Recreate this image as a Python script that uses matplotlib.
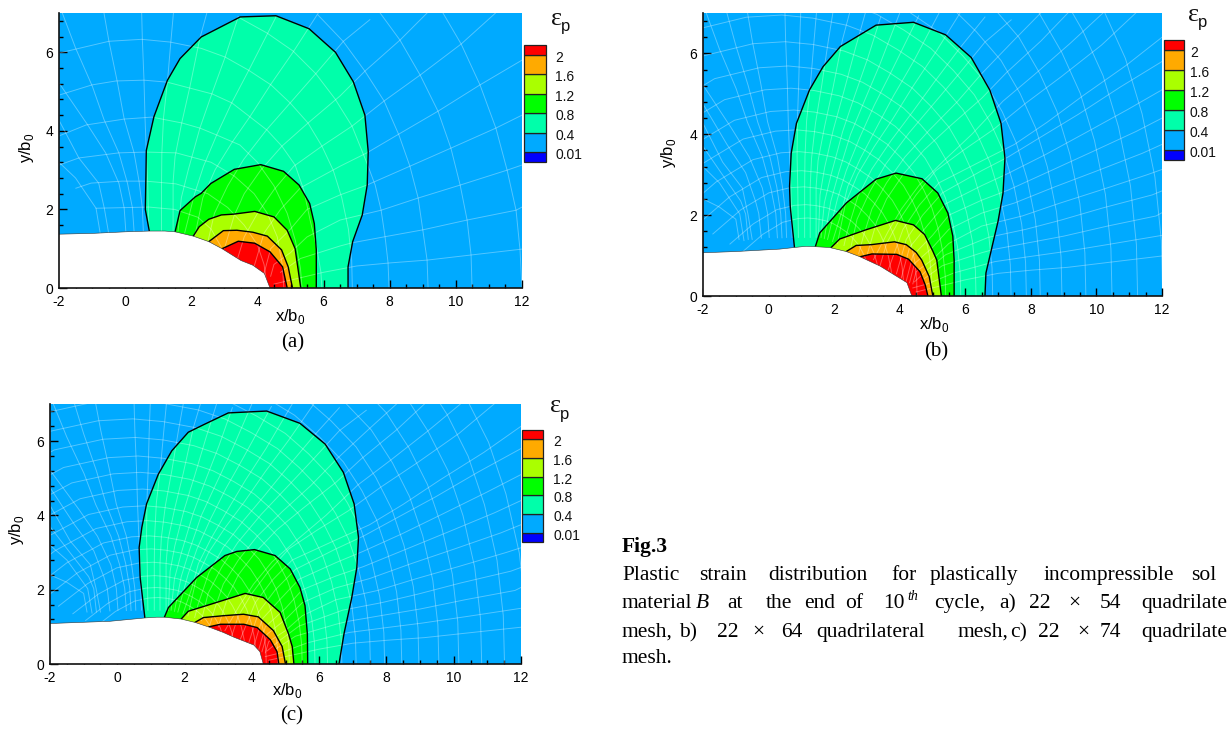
import matplotlib
matplotlib.use("Agg")
import matplotlib.pyplot as plt
from matplotlib.ticker import MultipleLocator

plt.rcParams["font.family"] = ["Liberation Sans", "DejaVu Sans"]
plt.rcParams["axes.unicode_minus"] = False

W, H = 1228, 729

# contour colours, low to high
c_bg = "#00AAFF"
c_04 = "#00FFAA"
c_08 = "#00FF00"
c_12 = "#AAFF00"
c_16 = "#FFAA00"
c_20 = "#FF0000"
c_low = "#0000FF"

legend_colors = [c_low, c_bg, c_04, c_08, c_12, c_16, c_20]
legend_labels = ["0.01", "0.4", "0.8", "1.2", "1.6", "2"]

# ----------------------------------------
# PANEL (a)
# ----------------------------------------
hole_a = [(-2, 1.37), (-1, 1.39), (0, 1.43), (0.73, 1.45), (1.2, 1.45), (1.51, 1.43), (2.06, 1.32),
          (2.53, 1.18), (2.93, 1.0), (3.5, 0.7), (3.86, 0.58), (4.21, 0.37), (4.38, 0)]
outer_a = [(0.73, 1.45), (0.61, 2.0), (0.63, 2.92), (0.64, 3.5), (0.87, 4.36), (1.28, 5.29), (1.66, 5.84),
           (2.3, 6.39), (3.48, 6.9), (4.56, 6.93), (5.56, 6.6), (6.36, 6.0), (6.9, 5.25), (7.25, 4.4),
           (7.35, 3.47), (7.32, 2.62), (7.17, 1.86), (6.88, 1.18), (6.74, 0.54), (6.74, 0)]
green_a = [(1.51, 1.43), (1.66, 1.97), (2.12, 2.32), (2.3, 2.41), (2.59, 2.66), (3.3, 3.02), (4.1, 3.14),
           (4.79, 2.97), (5.26, 2.62), (5.58, 2.15), (5.72, 1.64), (5.78, 0.97), (5.78, 0)]
yellow_a = [(2.06, 1.32), (2.24, 1.56), (2.53, 1.75), (2.91, 1.86), (3.28, 1.88), (3.92, 1.95), (4.5, 1.81),
            (4.9, 1.47), (5.14, 1.0), (5.31, 0)]
orange_a = [(2.53, 1.18), (2.97, 1.46), (3.38, 1.47), (3.86, 1.42), (4.3, 1.32), (4.73, 0.97), (4.93, 0.54),
            (5.06, 0)]
red_a = [(2.93, 1.0), (3.42, 1.19), (3.92, 1.14), (4.38, 0.92), (4.76, 0.54), (4.9, 0)]

# ----------------------------------------
# PANEL (b)
# ----------------------------------------
hole_b = [(-2, 1.07), (-1, 1.1), (0.34, 1.16), (0.79, 1.2), (1.15, 1.23), (1.42, 1.22), (1.86, 1.2), (2.37, 1.1),
          (2.79, 0.97), (3.4, 0.74), (4.22, 0.33), (4.37, 0)]
outer_b = [(0.79, 1.2), (0.66, 2.22), (0.64, 2.71), (0.69, 3.53), (0.85, 4.27), (1.25, 5.1), (1.66, 5.67),
           (2.19, 6.17), (3.28, 6.7), (4.42, 6.77), (5.4, 6.46), (6.18, 5.9), (6.75, 5.09), (7.09, 4.27),
           (7.21, 3.41), (7.15, 2.54), (7.0, 1.85), (6.82, 1.23), (6.63, 0.57), (6.6, 0)]
green_b = [(1.43, 1.23), (1.56, 1.56), (2.37, 2.3), (3.28, 2.89), (3.89, 3.04), (4.68, 2.9), (5.16, 2.55),
           (5.47, 2.05), (5.62, 1.48), (5.66, 0.89), (5.66, 0)]
yellow_b = [(1.91, 1.2), (2.17, 1.41), (2.98, 1.64), (3.87, 1.87), (4.42, 1.76), (4.76, 1.52), (5.01, 1.11),
            (5.13, 0.89), (5.27, 0)]
orange_b = [(2.37, 1.1), (2.67, 1.25), (3.13, 1.27), (3.84, 1.34), (4.2, 1.27), (4.5, 1.08), (4.67, 0.89),
            (4.9, 0.48), (5.01, 0)]
red_b = [(2.79, 0.97), (3.15, 1.04), (3.91, 1.03), (4.27, 0.91), (4.62, 0.6), (4.78, 0.27), (4.86, 0)]

# ----------------------------------------
# PANEL (c)
# ----------------------------------------
hole_c = [(-2, 1.09), (-0.22, 1.15), (0.82, 1.24), (1.17, 1.26), (1.4, 1.26), (1.9, 1.21), (2.31, 1.12),
          (2.77, 0.98), (3.15, 0.85), (3.47, 0.72), (4.06, 0.51), (4.24, 0.33), (4.34, 0)]
outer_c = [(0.82, 1.24), (0.68, 2.33), (0.65, 3.14), (0.73, 3.68), (0.87, 4.31), (1.22, 5.11), (1.62, 5.74),
           (2.11, 6.24), (2.56, 6.44), (3.3, 6.76), (4.44, 6.81), (5.43, 6.48), (6.18, 5.92), (6.72, 5.16),
           (7.04, 4.31), (7.17, 3.41), (7.12, 2.6), (6.97, 1.79), (6.74, 0.82), (6.59, 0)]
green_c = [(1.4, 1.26), (1.52, 1.52), (2.36, 2.33), (3.2, 2.92), (3.55, 3.03), (4.08, 3.08), (4.69, 2.92),
           (5.14, 2.56), (5.43, 2.06), (5.58, 1.57), (5.65, 0.81), (5.66, 0)]
yellow_c = [(1.9, 1.21), (2.11, 1.42), (2.96, 1.66), (3.8, 1.9), (4.34, 1.79), (4.84, 1.39), (5.09, 0.81),
            (5.2, 0.47), (5.25, 0)]
orange_c = [(2.31, 1.12), (2.56, 1.25), (3.15, 1.3), (3.75, 1.34), (4.19, 1.27), (4.64, 0.9), (4.9, 0.47),
            (5.0, 0)]
red_c = [(2.72, 1.0), (3.07, 1.07), (3.76, 1.07), (4.16, 0.98), (4.55, 0.65), (4.75, 0.33), (4.8, 0)]

# ----------------------------------------
# MESH LINES
# ----------------------------------------
mesh_arcs = [
    [(9.61, 7), (10.16, 6.21), (10.73, 5.17), (11.21, 4.07), (11.55, 3.0), (11.82, 1.98), (11.94, 0.97), (12, 0)],
    [(7.71, 7), (8.31, 6.31), (8.92, 5.42), (9.46, 4.5), (9.85, 3.56), (10.13, 2.62), (10.34, 1.73), (10.46, 0.84), (10.49, 0)],
    [(5.83, 6.95), (6.59, 6.28), (7.25, 5.52), (7.83, 4.76), (8.28, 3.89), (8.61, 3.1), (8.86, 2.29), (9.0, 1.48), (9.13, 0.71), (9.16, 0)],
    [(3.41, 6.9), (4.29, 6.49), (5.08, 6.03), (5.77, 5.45), (6.35, 4.81), (6.86, 4.12), (7.31, 3.18), (7.56, 2.62), (7.74, 1.98), (7.86, 1.3), (7.95, 0.64), (7.98, 0)],
    [(-2, 5.98), (-0.49, 6.28), (0.5, 6.33), (1.36, 6.26), (2.3, 6.1), (3.02, 5.88), (3.72, 5.55), (4.41, 5.17), (4.99, 4.71), (5.53, 4.2), (5.95, 3.61), (6.29, 3.0), (6.55, 2.3), (6.75, 1.5), (6.85, 0.7), (6.87, 0)],
    [(-2, 4.91), (-1, 5.17), (-0.28, 5.27), (0.57, 5.29), (1.27, 5.24), (2.63, 4.94), (3.23, 4.71), (4.29, 4.02), (4.74, 3.61), (5.14, 3.13), (5.4, 2.5), (5.6, 1.7), (5.8, 1.0), (5.92, 0.4), (5.95, 0)],
    [(-2, 3.87), (-1.18, 4.15), (-0.03, 4.3), (0.81, 4.35), (1.72, 4.2), (2.26, 4.07), (2.78, 3.89), (3.47, 3.64), (4.0, 3.2), (4.5, 2.6), (4.9, 1.9), (5.15, 1.2), (5.3, 0.5), (5.35, 0)],
    [(-2, 3.13), (-1.4, 3.31), (-0.19, 3.44), (0.63, 3.46), (1.54, 3.44), (2.6, 3.2), (3.3, 2.85), (3.9, 2.4), (4.3, 1.9), (4.6, 1.3), (4.75, 0.6), (4.8, 0)],
    [(-1.49, 2.54), (-1.03, 2.67), (-0.09, 2.72), (0.63, 2.72), (1.54, 2.65), (2.5, 2.4), (3.1, 2.05), (3.6, 1.6), (4.0, 1.1), (4.2, 0.6), (4.3, 0)],
    [(-0.88, 2.03), (0.72, 2.06), (1.5, 2.0), (2.2, 1.8), (2.6, 1.5), (2.9, 1.05)],
]
mesh_rays = [
    [(-2, 3.2), (-1.5, 2.8), (-0.88, 2.03), (-0.75, 1.37)],
    [(-2, 4.27), (-1.4, 3.31), (-0.8, 2.67), (-0.63, 2.03), (-0.5, 1.4)],
    [(-2, 5.22), (-1.14, 4.16), (-0.59, 3.44), (-0.19, 2.67), (-0.03, 2.04), (0.02, 1.45)],
    [(-1.9, 7), (-1.5, 6.11), (-0.99, 5.13), (-0.64, 4.29), (-0.19, 3.44), (0.07, 2.67), (0.22, 2.04), (0.27, 1.44)],
    [(-0.64, 7), (-0.49, 6.28), (-0.24, 5.26), (-0.03, 4.31), (0.27, 3.44), (0.42, 2.72), (0.52, 2.04), (0.55, 1.45)],
    [(0.5, 7), (0.52, 6.34), (0.57, 5.29), (0.6, 4.35), (0.64, 3.45), (0.68, 2.72), (0.7, 2.04), (0.72, 1.45)],
    [(1.46, 7), (1.38, 6.25), (1.28, 5.26), (1.16, 4.33), (1.11, 3.44), (1.1, 2.7), (1.1, 1.45)],
    [(2.47, 7), (2.26, 6.36), (1.96, 5.13), (1.71, 4.2), (1.51, 3.35), (1.45, 2.7), (1.45, 1.45)],
    [(3.42, 6.9), (3.02, 5.87), (2.62, 4.94), (2.26, 4.07), (1.91, 3.01), (1.7, 2.3), (1.6, 1.45)],
    [(4.58, 6.93), (3.75, 5.56), (3.22, 4.71), (2.77, 3.9), (2.37, 3.1), (2.1, 2.4), (1.8, 1.4)],
    [(5.84, 7), (5.09, 6.02), (4.4, 5.18), (3.78, 4.37), (3.22, 3.69), (2.72, 3.01), (2.35, 2.3), (2.1, 1.3)],
    [(7.4, 6.83), (6.6, 6.28), (5.76, 5.45), (4.99, 4.71), (4.28, 4.03), (3.58, 3.27), (3.1, 2.6), (2.7, 1.9), (2.5, 1.17)],
    [(9.13, 7), (8.31, 6.31), (7.25, 5.52), (6.5, 4.89), (5.53, 4.2), (4.74, 3.61), (4.1, 3.0), (3.6, 2.4), (3.3, 1.85), (3.0, 1.0)],
    [(11.2, 7), (10.16, 6.21), (8.92, 5.42), (7.83, 4.76), (6.86, 4.12), (5.95, 3.61), (5.1, 3.1), (4.5, 2.5), (4.0, 1.9), (3.6, 1.3), (3.4, 0.75)],
    [(12, 5.8), (10.73, 5.17), (9.46, 4.5), (8.28, 3.92), (7.31, 3.44), (6.5, 3.1), (5.3, 2.55), (4.7, 2.0), (4.2, 1.4), (3.9, 0.55)],
    [(12, 4.4), (11.21, 4.07), (9.85, 3.56), (8.61, 3.1), (7.31, 2.62), (6.5, 2.37), (5.5, 2.0), (5, 1.5), (4.4, 1.0), (4.2, 0.37)],
    [(12, 3.13), (11.55, 3.0), (10.13, 2.62), (8.86, 2.29), (7.74, 1.98), (6.5, 1.73), (5.5, 1.3), (5, 0.9), (4.5, 0.6), (4.4, 0.3)],
    [(12, 2.06), (11.82, 1.98), (10.34, 1.73), (9.0, 1.48), (7.95, 1.32), (6.86, 1.15), (6.5, 1.07), (5.3, 0.75), (4.7, 0.4)],
    [(12, 0.99), (10.46, 0.84), (9.13, 0.71), (8.03, 0.64), (7.0, 0.56), (6, 0.4), (5, 0.2), (4.5, 0.1)],
]

# extra radial lines of the finer meshes in (b) and (c)
fine_rays = [
    [(-2, 2.4), (-1.5, 2.2), (-1, 1.9), (-0.9, 1.4)],
    [(-2, 3.7), (-1.45, 3.05), (-0.85, 2.35), (-0.7, 2.03), (-0.62, 1.4)],
    [(-2, 4.75), (-1.27, 3.75), (-0.7, 3.05), (-0.4, 2.35), (-0.3, 2.04), (-0.22, 1.43)],
    [(-1.27, 7), (-1, 6.2), (-0.62, 5.2), (-0.33, 4.3), (0.04, 3.44), (0.25, 2.7), (0.37, 2.04), (0.41, 1.44)],
    [(0.98, 7), (0.95, 6.3), (0.92, 5.28), (0.88, 4.34), (0.87, 3.45), (0.89, 2.7), (0.9, 2.04), (0.91, 1.45)],
    [(1.96, 7), (1.82, 6.3), (1.62, 5.2), (1.43, 4.27), (1.31, 3.4), (1.27, 2.7), (1.27, 1.45)],
    [(2.95, 7), (2.64, 6.1), (2.29, 5.04), (1.98, 4.13), (1.71, 3.18), (1.57, 2.5), (1.52, 1.45)],
    [(4, 7), (3.38, 5.7), (2.92, 4.82), (2.5, 4.0), (2.14, 3.05), (1.9, 2.35), (1.7, 1.42)],
    [(5.2, 7), (4.42, 5.8), (3.81, 4.95), (3.27, 4.13), (2.8, 3.4), (2.41, 2.7), (2.2, 2.0), (1.95, 1.35)],
    [(6.6, 6.9), (5.85, 6.15), (5.08, 5.32), (4.38, 4.54), (3.75, 3.86), (3.15, 3.14), (2.72, 2.45), (2.4, 1.6), (2.3, 1.25)],
    [(8.3, 7), (7.45, 6.3), (6.5, 5.5), (5.75, 4.8), (4.9, 4.1), (4.16, 3.44), (3.6, 2.8), (3.15, 2.15), (2.9, 1.5), (2.75, 1.05)],
    [(10.2, 7), (9.2, 6.25), (8.1, 5.47), (7.15, 4.82), (6.2, 4.0), (5.35, 3.35), (4.6, 2.75), (4.05, 2.15), (3.65, 1.6), (3.2, 0.9)],
    [(12, 6.4), (10.9, 5.7), (9.6, 4.96), (8.5, 4.3), (7.5, 3.75), (6.4, 3.3), (5.2, 2.8), (4.6, 2.25), (4.1, 1.65), (3.65, 0.65)],
    [(12, 5.1), (10.97, 4.62), (9.65, 4.03), (8.45, 3.5), (7.3, 3.03), (6.5, 2.73), (5.4, 2.28), (4.85, 1.75), (4.3, 1.2), (4.05, 0.45)],
    [(12, 3.75), (11.4, 3.53), (10, 3.09), (8.73, 2.7), (7.5, 2.3), (6.5, 2.05), (5.5, 1.65), (5, 1.2), (4.45, 0.8), (4.3, 0.33)],
    [(12, 2.6), (11.7, 2.5), (10.2, 2.18), (8.93, 1.88), (7.85, 1.65), (6.7, 1.45), (5.4, 1.02), (4.85, 0.65), (4.45, 0.35)],
    [(12, 1.5), (10.4, 1.28), (9.05, 1.1), (8, 0.98), (6.9, 0.85), (5.65, 0.57), (4.85, 0.3), (4.4, 0.2)],
]

# arc shape of height 6.33 in (a), and the arc heights counted in (b) and (c)
arc_shape = [(-6, 3.6), (-4, 5), (-2, 5.98), (-0.49, 6.28), (0.5, 6.33), (1.36, 6.26), (2.3, 6.1), (3.02, 5.88),
             (3.72, 5.55), (4.41, 5.17), (4.99, 4.71), (5.53, 4.2), (5.95, 3.61), (6.29, 3.0), (6.55, 2.3),
             (6.75, 1.5), (6.85, 0.7), (6.87, 0)]
arc_heights_b = [12.4, 11.5, 10.58, 9.64, 8.78, 8.0, 7.5, 6.95, 6.29, 5.69, 5.14, 4.6, 4.11, 3.57, 3.1, 2.7, 2.26, 1.93]
arc_heights_c = [12.6, 11.8, 11, 10.2, 9.5, 8.8, 8.2, 7.6, 7.1, 6.6, 6.1, 5.6, 5.16, 4.71, 4.26, 3.86, 3.45, 3.1,
                 2.74, 2.38, 2.06, 1.79]

# caption words: (text, left pixel)
caption_l1 = [("Plastic", 622), ("strain", 699), ("distribution", 768), ("for", 891), ("plastically", 930),
              ("incompressible", 1044), ("sol", 1191)]
caption_l2 = [("material", 622), ("at", 727), ("the", 766), ("end", 804), ("of", 845), ("10", 883),
              ("cycle,", 934), ("a)", 999), ("22", 1029), ("×", 1068), ("54", 1100), ("quadrilate", 1141)]
caption_l3 = [("mesh,", 622), ("b)", 679), ("22", 717), ("×", 752), ("64", 781), ("quadrilateral", 816),
              ("mesh,", 958), ("c)", 1010), ("22", 1038), ("×", 1077), ("74", 1100), ("quadrilate", 1141)]


def px_axes(x0, y0, x1, y1):
    # pixel box (top-left origin) -> figure axes
    return fig.add_axes([x0 / W, 1 - y1 / H, (x1 - x0) / W, (y1 - y0) / H])


def px_text(x, y, s, **kw):
    fig.text(x / W, 1 - y / H, s, **kw)


def scaled_arcs(heights):
    # arcs of one mesh share a shape, growing from about x = 1.5 on the axis
    arcs = []
    for h in heights:
        s = h / 6.33
        arcs.append([(1.5 + (x - 1.5) * s, y * s) for x, y in arc_shape])
    return arcs


def draw_panel(box, hole, outer, green, yellow, orange, red, mesh):
    ax = px_axes(*box)
    ax.set_xlim(-2, 12)
    ax.set_ylim(0, 7)
    ax.set_facecolor(c_bg)

    for line, col in [(outer, c_04), (green, c_08), (yellow, c_12), (orange, c_16), (red, c_20)]:
        ax.fill(*zip(*(line + [(0, 0)])), color=col, lw=0, zorder=1)

    for line in mesh:
        ax.plot(*zip(*line), color="white", lw=0.7, alpha=0.33, zorder=2)

    for line in [outer, green, yellow, orange, red]:
        ax.plot(*zip(*line), color="black", lw=1.0, zorder=3, solid_joinstyle="round")

    ax.fill(*zip(*(hole + [(-2, 0)])), color="white", lw=0, zorder=4)
    ax.plot(*zip(*hole), color="#333333", lw=0.4, zorder=4)

    for side in ["top", "right"]:
        ax.spines[side].set_visible(False)
    for side in ["left", "bottom"]:
        ax.spines[side].set_linewidth(1.2)
        ax.spines[side].set_color("#111111")
        ax.spines[side].set_zorder(6)

    ax.xaxis.set_major_locator(MultipleLocator(2))
    ax.xaxis.set_minor_locator(MultipleLocator(0.5))
    ax.yaxis.set_major_locator(MultipleLocator(2))
    ax.yaxis.set_minor_locator(MultipleLocator(0.4))
    ax.tick_params(which="major", direction="in", length=6, width=1, labelsize=10, zorder=6)
    ax.tick_params(axis="x", which="major", pad=5)
    ax.tick_params(axis="y", which="major", pad=4)
    ax.tick_params(which="minor", direction="in", length=3, width=1, zorder=6)
    return ax


def draw_legend(box, label_x, eps_xy):
    ax = px_axes(*box)
    ax.set_xlim(0, 1)
    ax.set_ylim(-0.5, 5.5)
    ax.axis("off")
    edges = [-0.5, 0, 1, 2, 3, 4, 5, 5.5]
    for i, col in enumerate(legend_colors):
        ax.bar(0.5, edges[i + 1] - edges[i], bottom=edges[i], width=1, color=col,
               edgecolor="#222222", linewidth=0.9, clip_on=False)
    top, bottom = box[1], box[3]
    step = (bottom - top) / 6
    for i, lab in enumerate(legend_labels):
        y = bottom - step * (i + 0.5) + 3
        px_text(label_x, y, lab, fontsize=10, ha="left", va="center", color="#111111")
    px_text(eps_xy[0], eps_xy[1], "ε", fontsize=19, family="Liberation Serif", ha="center", va="center",
            color="#111111")
    px_text(eps_xy[0] + 9, eps_xy[1] + 8, "p", fontsize=12, ha="center", va="center", color="#111111")


# ----------------------------------------
# DRAW FIGURE
# ----------------------------------------
fig = plt.figure(figsize=(W / 100, H / 100), dpi=100, facecolor="white")

draw_panel((59, 13, 522, 288), hole_a, outer_a, green_a, yellow_a, orange_a, red_a, mesh_arcs + mesh_rays)
draw_panel((703, 13, 1162, 296), hole_b, outer_b, green_b, yellow_b, orange_b, red_b,
           scaled_arcs(arc_heights_b) + mesh_rays + fine_rays)
draw_panel((50, 404, 521, 664), hole_c, outer_c, green_c, yellow_c, orange_c, red_c,
           scaled_arcs(arc_heights_c) + mesh_rays + fine_rays)

draw_legend((524, 45, 546, 162), 555, (557, 19))
draw_legend((1164, 40, 1184, 160), 1190, (1194, 15))
draw_legend((522, 430, 543, 542), 553, (556, 406))

for x, y in [(290, 316), (934, 325), (287, 690)]:
    px_text(x, y, "x/b$_{\\mathregular{0}}$", fontsize=12, ha="center", va="center")
for x, y in [(27, 148), (668, 153), (17, 530)]:
    px_text(x, y, "y/b$_{\\mathregular{0}}$", fontsize=12, rotation=90, ha="center", va="center")

serif = "Liberation Serif"
px_text(293, 343, "(a)", fontsize=15, family=serif, ha="center", va="center")
px_text(936, 352, "(b)", fontsize=15, family=serif, ha="center", va="center")
px_text(292, 716, "(c)", fontsize=15, family=serif, ha="center", va="center")

# caption block
px_text(622, 552, "Fig.3", fontsize=15.5, family=serif, weight="bold", va="baseline")
for y, words in [(580, caption_l1), (608, caption_l2), (637, caption_l3)]:
    for s, x in words:
        px_text(x, y, s, fontsize=15.5, family=serif, va="baseline")
px_text(696, 608, "B", fontsize=15.5, family=serif, style="italic", va="baseline")
px_text(907, 600, "th", fontsize=10, family=serif, style="italic", va="baseline")
px_text(622, 663, "mesh.", fontsize=15.5, family=serif, va="baseline")

fig.savefig("out.png", dpi=100)
